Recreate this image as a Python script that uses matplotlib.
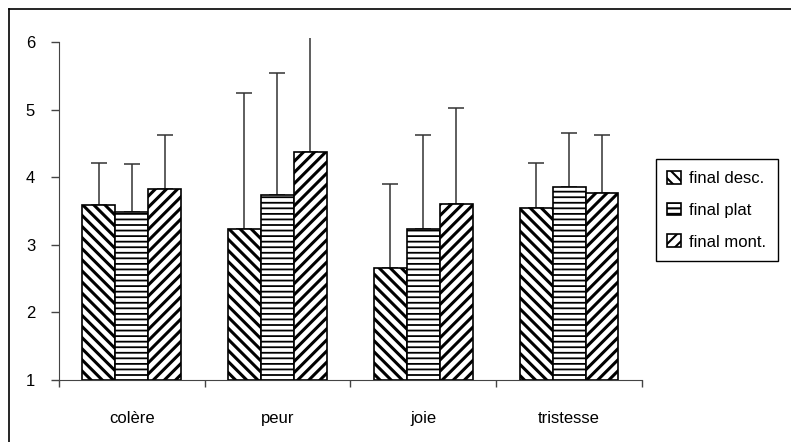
import matplotlib.pyplot as plt
import numpy as np
from matplotlib.lines import Line2D

plt.rcParams['font.family'] = ['Liberation Sans', 'DejaVu Sans']

# Data (bars start at 1, error bars go up only)
categories = ['colère', 'peur', 'joie', 'tristesse']
series = ['final desc.', 'final plat', 'final mont.']
desc = [3.59, 3.24, 2.66, 3.55]
plat = [3.48, 3.73, 3.24, 3.86]
mont = [3.82, 4.37, 3.61, 3.77]
desc_err = [0.62, 2.00, 1.24, 0.66]
plat_err = [0.72, 1.81, 1.38, 0.80]
mont_err = [0.80, 1.75, 1.42, 0.85]

hatches = ['\\\\\\', '---', '///']
hatch_lw = [2.2, 1.3, 2.2]
base = 1.0
width = 0.226

fig = plt.figure(figsize=(7.91, 4.42), dpi=100)
ax = fig.add_axes([0.0742, 0.1403, 0.7374, 0.7738])

x = np.arange(len(categories))
for i, (vals, errs, name) in enumerate(zip([desc, plat, mont],
                                           [desc_err, plat_err, mont_err], series)):
    plt.rcParams['hatch.linewidth'] = hatch_lw[i]
    pos = x + (i - 1) * width
    heights = np.array(vals) - base
    ax.bar(pos, heights, width, bottom=base, color='white', edgecolor='black',
           linewidth=1.2, hatch=hatches[i], label=name, zorder=2)
    ax.errorbar(pos, vals, yerr=[np.zeros(len(errs)), errs], fmt='none',
                ecolor='#333333', elinewidth=1.1, capsize=5.5, capthick=1.1, zorder=1)

ax.set_xlim(-0.5, 3.5)
ax.set_ylim(1, 6.06)
ax.set_yticks([1, 2, 3, 4, 5, 6])
ax.tick_params(axis='y', direction='out', length=6, width=1, color='#444444',
               labelsize=12, pad=11)
ax.set_xticks(x)
ax.set_xticklabels(categories, fontsize=12)
ax.set_xticks(np.arange(-0.5, 4, 1), minor=True)
ax.tick_params(axis='x', which='major', length=0, pad=22)
ax.tick_params(axis='x', which='minor', direction='out', length=5, width=1, color='#444444')

for s in ['top', 'right']:
    ax.spines[s].set_visible(False)
ax.spines['left'].set_bounds(1, 6)
ax.spines['left'].set_color('#444444')
ax.spines['bottom'].set_color('#444444')

plt.rcParams['hatch.linewidth'] = 1.5
leg = fig.legend(loc='upper left', bbox_to_anchor=(0.829, 0.64), fontsize=12,
                 frameon=True, fancybox=False, edgecolor='black', framealpha=1,
                 handlelength=0.8, handleheight=0.8, handletextpad=0.5,
                 borderaxespad=0, borderpad=0.7, labelspacing=1.0)
leg.get_frame().set_linewidth(1)

# chart area border (only top and left visible in the crop)
fig.add_artist(Line2D([9 / 791, 9 / 791], [0, 1 - 9 / 442], color='black', lw=1.2))
fig.add_artist(Line2D([9 / 791, 1], [1 - 9 / 442, 1 - 9 / 442], color='black', lw=1.2))

fig.savefig('out.png', dpi=100)
